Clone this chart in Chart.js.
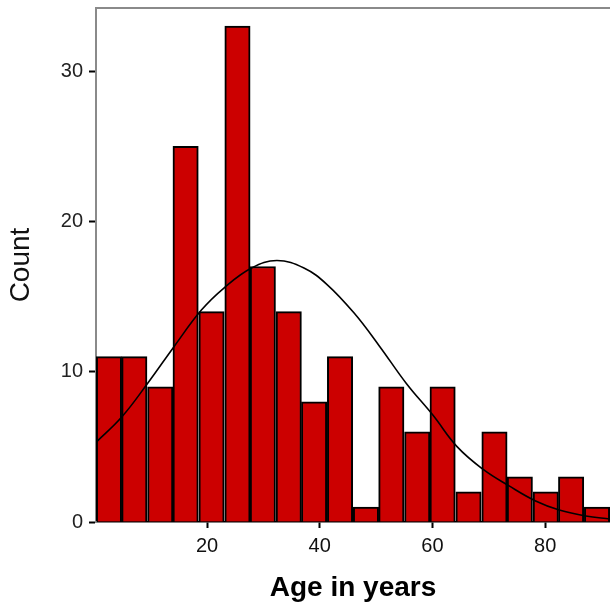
<!DOCTYPE html>
<html>
<head>
<meta charset="utf-8">
<script src="https://cdn.jsdelivr.net/npm/chart.js@4"></script>
<style>
  html, body { margin: 0; padding: 0; background: #fff; }
  #wrap { width: 610px; height: 607px; }
</style>
</head>
<body>
<div id="wrap"><canvas id="age-chart"></canvas></div>
<script>
// histogram bins (centre of each age bin) and counts
const binCentres = [2.6, 7.1, 11.7, 16.2, 20.8, 25.4, 29.9, 34.5, 39.0, 43.6,
                    48.2, 52.7, 57.3, 61.8, 66.4, 71.0, 75.5, 80.1, 84.6, 89.2];
const counts = [11, 11, 9, 25, 14, 33, 17, 14, 8, 11,
                1, 9, 6, 9, 2, 6, 3, 2, 3, 1];

// normal curve at the bin edges
const curveX = [0.3, 4.9, 9.6, 14.2, 19.0, 23.1, 27.9, 32.4, 37.2, 41.3,
                46.1, 50.6, 55.4, 60.1, 64.4, 69.0, 73.6, 78.3, 82.5, 87.2, 91.5];
const curveY = [5.3, 7.0, 9.3, 11.7, 14.1, 15.6, 16.9, 17.4, 16.9, 15.8,
                13.9, 11.7, 9.2, 7.1, 5.0, 3.5, 2.4, 1.4, 0.8, 0.4, 0.2];

const xTicks = [20, 40, 60, 80];
const yTicks = [0, 10, 20, 30];

const fontFamily = "'Liberation Sans', Arial, sans-serif";

// grey frame line along the top of the plot
const topFrame = {
    id: 'topFrame',
    afterDraw(chart) {
        const {ctx, chartArea} = chart;
        ctx.save();
        ctx.strokeStyle = '#8a8a8a';
        ctx.lineWidth = 2;
        ctx.beginPath();
        ctx.moveTo(chartArea.left - 1, chartArea.top);
        ctx.lineTo(chartArea.right, chartArea.top);
        ctx.stroke();
        ctx.restore();
    }
};

const ctx = document.querySelector('#age-chart').getContext('2d');
const ageChart = new Chart(ctx, {
    type: 'bar',
    data: {
        datasets: [
            {
                type: 'line',
                label: 'Normal',
                data: curveX.map((x, i) => ({x: x, y: curveY[i]})),
                borderColor: '#000',
                borderWidth: 1.6,
                pointRadius: 0,
                tension: 0.4,
                fill: false,
                order: 0
            },
            {
                label: 'Count',
                data: binCentres.map((x, i) => ({x: x, y: counts[i]})),
                backgroundColor: '#cc0000',
                borderColor: '#000',
                borderWidth: 2,
                barPercentage: 1,
                categoryPercentage: 1,
                order: 1
            }
        ]
    },
    options: {
        responsive: true,
        maintainAspectRatio: false,
        animation: false,
        layout: { padding: { top: 8, right: 0, left: 0, bottom: 0 } },
        plugins: {
            legend: { display: false },
            tooltip: { enabled: false }
        },
        scales: {
            x: {
                type: 'linear',
                offset: false,
                min: 0.3,
                max: 91.5,
                afterBuildTicks: scale => { scale.ticks = xTicks.map(v => ({value: v})); },
                afterFit: scale => { scale.height = 85; },
                border: { color: '#000', width: 1.5 },
                grid: { display: true, offset: false, drawOnChartArea: false, tickLength: 6, tickColor: '#000', tickWidth: 2 },
                ticks: {
                    color: '#111',
                    padding: 6,
                    maxRotation: 0,
                    font: { family: fontFamily, size: 20 }
                },
                title: {
                    display: true,
                    text: 'Age in years',
                    color: '#000',
                    padding: { top: 0, bottom: 2 },
                    font: { family: fontFamily, size: 28, weight: 'bold' }
                }
            },
            y: {
                min: 0,
                max: 34.2,
                afterBuildTicks: scale => { scale.ticks = yTicks.map(v => ({value: v})); },
                afterFit: scale => { scale.width = 96; scale.paddingTop = 0; },
                border: { color: '#8a8a8a', width: 2 },
                grid: { display: true, drawOnChartArea: false, tickLength: 7, tickColor: '#000', tickWidth: 2 },
                ticks: {
                    color: '#222',
                    padding: 6,
                    font: { family: fontFamily, size: 20 }
                },
                title: {
                    display: true,
                    text: 'Count',
                    color: '#111',
                    padding: { top: 4, bottom: 0 },
                    font: { family: fontFamily, size: 28 }
                }
            }
        }
    },
    plugins: [topFrame]
});
</script>
</body>
</html>
